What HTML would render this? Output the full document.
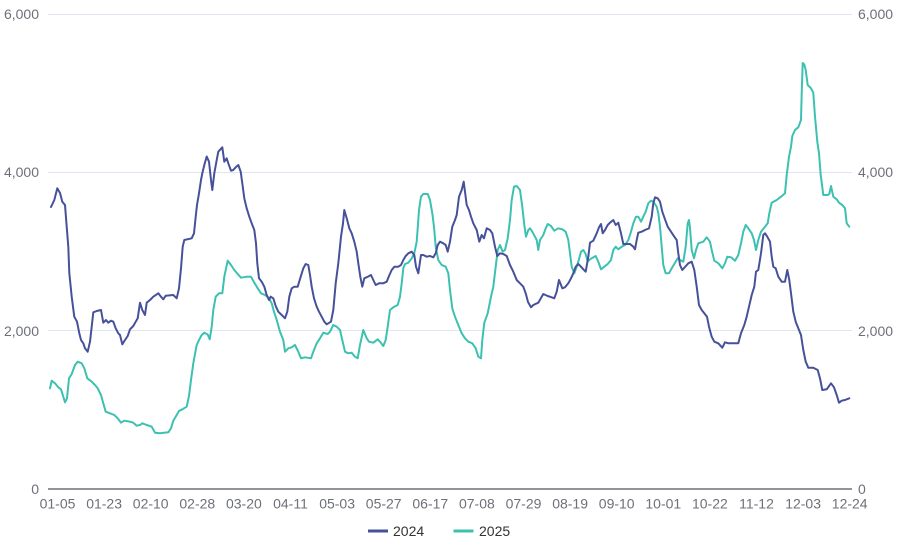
<!DOCTYPE html>
<html><head><meta charset="utf-8"><style>
html,body{margin:0;padding:0;background:#fff;}
svg{display:block;}
text{font-family:"Liberation Sans",Arial,sans-serif;font-size:14px;fill:#6E7079;}
</style></head><body>
<svg width="907" height="546" viewBox="0 0 907 546" xmlns="http://www.w3.org/2000/svg">
<g stroke="#E0E6F1" stroke-width="1">
<line x1="48" y1="14.5" x2="852" y2="14.5"/>
<line x1="48" y1="172.5" x2="852" y2="172.5"/>
<line x1="48" y1="330.5" x2="852" y2="330.5"/>
</g>
<line x1="48" y1="489" x2="852" y2="489" stroke="#6E7079" stroke-width="1.5"/>
<g text-anchor="end" dominant-baseline="central">
<text x="39" y="14">6,000</text>
<text x="39" y="172">4,000</text>
<text x="39" y="331">2,000</text>
<text x="39" y="489">0</text>
</g>
<g text-anchor="start" dominant-baseline="central">
<text x="858" y="14">6,000</text>
<text x="858" y="172">4,000</text>
<text x="858" y="331">2,000</text>
<text x="858" y="489">0</text>
</g>
<g text-anchor="middle" dominant-baseline="central">
<text x="57.5" y="503.5">01-05</text>
<text x="104.1" y="503.5">01-23</text>
<text x="150.7" y="503.5">02-10</text>
<text x="197.3" y="503.5">02-28</text>
<text x="243.9" y="503.5">03-20</text>
<text x="290.5" y="503.5">04-11</text>
<text x="337.1" y="503.5">05-03</text>
<text x="383.7" y="503.5">05-27</text>
<text x="430.3" y="503.5">06-17</text>
<text x="476.9" y="503.5">07-08</text>
<text x="523.5" y="503.5">07-29</text>
<text x="570.1" y="503.5">08-19</text>
<text x="616.7" y="503.5">09-10</text>
<text x="663.3" y="503.5">10-01</text>
<text x="709.9" y="503.5">10-22</text>
<text x="756.5" y="503.5">11-12</text>
<text x="803.1" y="503.5">12-03</text>
<text x="849.7" y="503.5">12-24</text>
</g>
<polyline fill="none" stroke="#3cc1b1" stroke-width="2" stroke-linejoin="round" stroke-linecap="round" points="50,388.3 51.7,380.7 55,383.3 58.3,387.3 61,389.3 63.3,396.7 65,402.3 67,398.3 69,378.3 71.7,374 75,365 77.7,361.7 81.7,363.3 84.3,368.3 87.3,378.3 91.7,381.7 95,385 97.7,388.3 101,395 103.3,403.3 105.7,411.7 110,413.3 114.3,415 117.7,418.3 121,422.7 124.3,420.7 130,421.7 133.3,422.7 136.7,425.7 140,425 142.3,423.3 146.7,425 151.7,426.7 155,432.7 160,433.3 168.3,432.3 171,428.3 173.3,420.7 176.7,415 179,411 182.3,409.3 186.7,406.7 189,396 191,380 193.3,363.3 196.7,345 199,340 201.7,335 204.3,332.7 207.7,334.5 209.7,339.3 211.7,326.7 213.3,310 215.7,296.7 219,293.3 222.3,293.3 224.3,276.7 227.7,260.7 231,265 234.3,270 237.7,274 241,277.7 246.7,276.7 251,276.7 254.3,282.7 257.7,288.3 261,293.3 265,295 268.3,297.3 271.7,303.3 274,311.7 276.7,320 280,331.7 283.3,340 285,351.7 288.3,348.3 291.7,347.3 295,345 298.3,351.7 301,358.3 305,357.3 311,358.3 313.3,351.7 316.7,343.3 320,338.3 323.3,332.7 327.7,334 330,331.7 333.3,325 336.7,326.7 340,330 342.3,340 345,351.7 348.3,353.3 351.7,352.7 355,356.7 357.7,358.3 360,345 363.3,330 366.7,338.3 369,341.7 373.3,342.7 377.7,339.3 380,341.7 383.3,346 385.7,340 387.7,326.7 390,310 393.3,307.3 397.7,305 400,296.7 401.7,283.3 403.3,268.3 405,264 408.3,262.7 411.7,258.3 414.3,253.3 416.7,241.7 417.7,228.3 419,210 421,196.7 423.3,194 427.7,194 430,200 432.3,213.3 434,226.7 435.7,246.7 438.3,260 441.7,265 445.7,266.7 448.3,273.3 450,290 452.3,308.3 455,316.7 458.3,325 461.7,333.3 465,338.3 468.3,341.7 472.3,343.3 475.7,348.3 478.3,356.7 481,358.3 482.3,340 484.3,322.7 487.7,313.3 491,296.7 493.3,286.7 495.7,266.7 497.7,250 500,245 502.7,251.7 505,250 507.7,238.3 510,220 511.7,200 514,186.7 516.7,186 520,190 522.3,206.7 524.3,225 526,236.7 528.3,230 530,228.3 532.3,231.7 535,236.7 536.7,240 538.3,250 540,240 543.3,235 545.7,228.3 547.7,224 551,226 554.3,230.7 558.3,228.3 562.3,229.3 565.7,231.7 568.3,240 570,253.3 571.7,266.7 574.3,273.3 576.7,266.7 579,259.3 581,251.7 583.3,250 585.7,254 587.7,261.7 590,259.3 593.3,257.3 595.7,256 598.3,261.7 601,269.3 604.3,266.7 607.7,264 611,260 613.3,250 615.7,246.7 618.3,249.3 621.7,246.7 625,245 628.3,240 631,231.7 633.3,223.3 636,216.7 638.3,216.7 641,221.7 643.3,216.7 645.7,211.7 648.3,203.3 651,200.7 653.3,201.7 656.7,206.7 658.3,213.3 660,226.7 661.7,246.7 663.3,265 665.7,273.3 669,273.3 671.7,268.3 674.3,264 677.7,258.3 680,260 683.3,261.7 685.7,246.7 687.7,223.3 689,220 690,228 691.7,250 694,258.3 696,250 698.3,243.3 703.3,241.7 706.7,237.3 710,241.7 711.7,250 714.3,260.7 718.3,263.3 722.3,268.3 725,263.3 727.3,256.7 731,257.3 735,260.7 738.3,255 741,243.3 743.3,231.7 745.7,225 748.3,228.3 751.7,233.3 754,240 756,250 758.3,240 761,231.7 765,226.7 767.7,223.3 769.3,213.3 771.7,202.7 776.7,200 781,196.7 785,193.3 786.7,175 789,156.7 791,146.7 792.3,136 795,130 798.3,127.3 801,120 801.7,93.3 802.7,63 804.3,64.5 805.7,70 807.7,85 811,88.3 813.3,92.7 815,116.7 817.3,141.7 819,153.3 820.7,175 823.3,195 827.7,195 829.3,194 831,186 833.3,196.7 836.7,199.3 839,202.7 842.3,205 845,208.3 846.7,223.3 849.3,226.7"/>
<polyline fill="none" stroke="#46519a" stroke-width="2" stroke-linejoin="round" stroke-linecap="round" points="51,207 54.3,200 57.3,188.3 60,193 62.3,201.7 65,205 66.7,226.7 68.3,246.7 69.3,273 71.7,296.7 74.3,316.7 77,321.7 79.3,333.3 81,340 83.3,343.3 85,348.3 87.7,351.7 90,341.7 91.7,326.7 93.3,312.3 96.7,311 101,310 103.3,322.7 106,320 108.3,322.7 111,320.7 113.3,321.7 115.7,328.3 118.3,333.3 120,335 122.3,344.3 125,340 127.7,336 130,329.3 133.3,326 135.7,321.7 137.7,318.3 140,302.7 142.3,310 145,315 146.7,302.7 150,300 153.3,296.7 158.3,293.3 161,296.7 163.3,299.3 165.7,295.7 173.3,295 176.7,298.3 179,288.3 181,268.3 182.7,246.7 184.3,240 191.7,238.3 194,233.3 195.7,216.7 197,205 199,193.3 201,180 202.3,173.3 204.3,165 206.7,156.5 209,161.7 211,180 212.3,190 214.3,173.3 216.7,160 218.3,151.7 222.3,147.3 224.3,161.7 226.7,158.3 228.3,163.3 231,170.7 233.3,170 235.7,167.3 238.3,165 240.7,171.7 242.3,183.3 244.3,198.3 246.7,208.3 249.3,216.7 251.7,223.3 254.3,230 256,243.3 257.3,263.3 259,278.3 261.7,281.7 264.3,286.7 266.7,295 269,300 270.7,296.7 273.3,298.3 275.7,306 278.3,311.7 281.7,315 285,318.3 287.3,311.7 289.3,296.7 291.7,288.3 294.3,286.7 297.7,286.7 300.7,276.7 303.3,268.3 305.7,264 308.3,265 310,275 311.7,286.7 314,298.3 316.7,306.7 319,311.7 321.7,316.7 324.3,321.7 326.7,324.3 331,321.7 333.3,310 335.7,283.3 338.3,263.3 341,236.7 343,223.3 344.3,210 346.7,218.3 349.3,228.3 351.7,233.3 354.3,241.7 356.7,251.7 358.3,263.3 360.3,276.7 362.3,286.7 364.3,278.3 368.3,276.5 371,275 373.3,280 375.7,285 379,283.3 383.3,283.3 386.7,281.7 389,276 391.7,270 394.3,266.7 398.3,266.7 401,265 403.3,260 405.7,256 408.3,253.3 411.7,251.7 414.3,255 416,266.7 418.3,273.3 421,255 423.3,255 426.7,256.7 430,256 433.3,257.3 435.7,253.3 437.7,245 440,241.7 443.3,243.3 445.7,245 447.7,251.7 450,241.7 452.3,226.7 455,220 456.7,215 459,196.7 461.7,190 463.7,181.7 465,191.7 466.7,205 469,210 471,216.7 473.3,223.3 476.7,230 479.3,241.7 481.7,235 484,238.3 486.7,228.3 490,230 492.3,233.3 495,246.7 497.3,256 500,253.3 503.3,254 506.7,256 510,265 513.3,271.7 516.7,280 520,283.3 523.3,286.7 525.7,293.3 528,302 531,307.3 533.3,305 538.3,302.7 541.7,296.7 543.3,294 547.7,296 551.7,297.3 554.3,298.3 556.7,291.7 559,280 561,285 562.3,288.3 565,287.3 568.3,283.3 571,278.3 573.3,273.3 575.7,266.7 578.3,264 581,266.7 583.3,269.3 585.7,271.7 588.3,256.7 590,242.7 593.3,240.7 596.7,233.3 599,227.3 601,224 602.7,233.3 605,230 607.7,225 610,222.7 613.3,220 615.7,225 618.3,222.7 621,233.3 623.3,244 626.7,244 630,244 633.3,246.7 635,249.3 636.7,240 638.3,232.7 641.7,231.7 645,230 649,228.3 651.7,216.7 653.3,203.3 655,197.3 657.7,198.3 660,201.7 662.3,211.7 665,219.3 667.7,226.7 671,231.7 674.3,236.7 676.7,240 678.3,253.3 680,265 682.3,270 685,267 688.3,263.3 691.7,261.7 694.3,270 696.7,286.7 699,305 701.7,310 704.3,313.3 707,316.7 709,326.7 711.7,336.7 714.3,341.7 718.3,343.3 722.3,347.7 725,342.3 728.3,343.3 733.3,343.3 738.3,343.3 741,333.3 744.3,325 746.7,316.7 749,306.7 751.7,295 754.3,286.7 756,271.7 758.3,270 761,253.3 763.3,235 765,233.3 767.3,236.7 770,241.7 771.7,256.7 773.3,266.7 775.7,268.3 778.3,276.7 781.7,281.7 785,281.7 787.3,270 789.3,280 791,293.3 793.3,311.7 795.7,321.7 798.3,328.3 801,335 803.3,350 805.7,361.7 808.3,367.7 813.3,367.7 817.7,370 820,378.3 822.3,390 826.7,389.3 831,383.3 834,387.3 836.7,395 839,402.7 841.7,400.7 845,400 849.3,398.3"/>
<line x1="368" y1="531" x2="388" y2="531" stroke="#46519a" stroke-width="3"/>
<text x="393" y="531" dominant-baseline="central" style="fill:#333">2024</text>
<line x1="453.5" y1="531" x2="473.5" y2="531" stroke="#3cc1b1" stroke-width="3"/>
<text x="479" y="531" dominant-baseline="central" style="fill:#333">2025</text>
</svg>
</body></html>
